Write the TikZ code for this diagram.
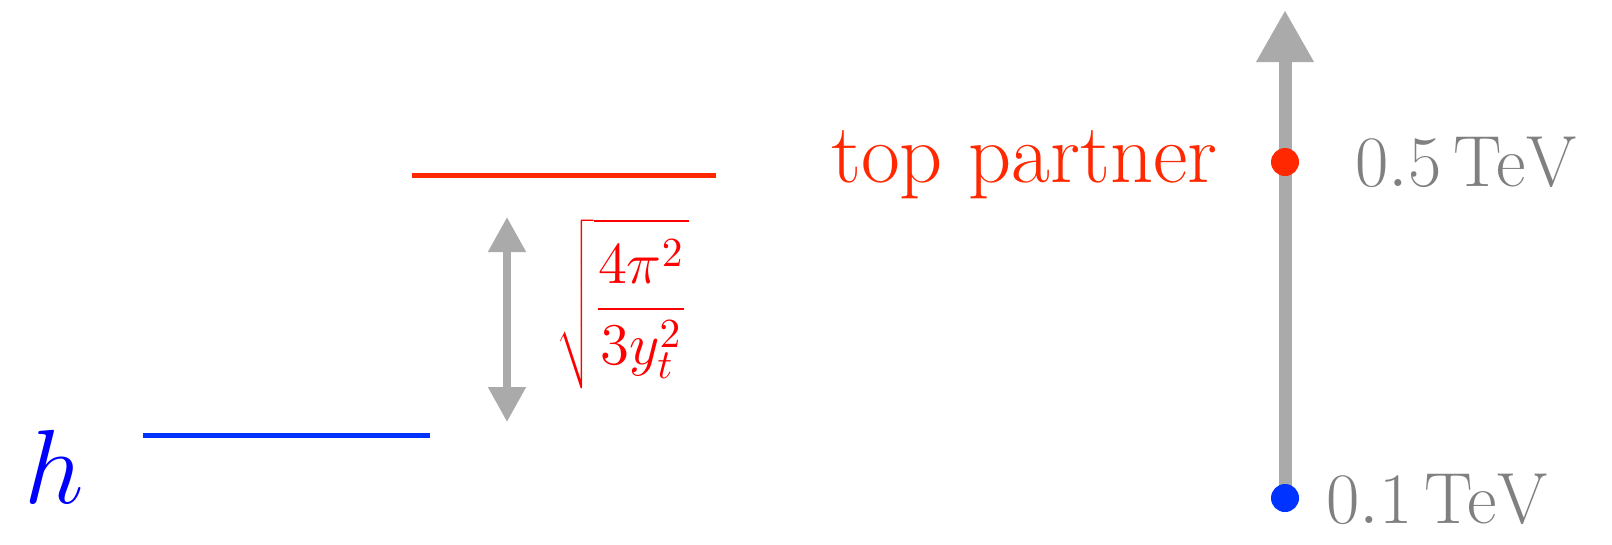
\RequirePackage{fix-cm}
\documentclass[tikz,border=0pt]{standalone}
\usetikzlibrary{arrows.meta}
\definecolor{higgsblue}{RGB}{0,51,255}
\definecolor{partnerred}{RGB}{255,40,0}
\definecolor{scalegray}{RGB}{170,170,170}
\definecolor{labelgray}{RGB}{128,128,128}
\tikzset{
  level/.style={line width=0.05cm},
  gap arrow/.style={scalegray, line width=0.08cm,
    {Triangle[length=0.35cm,width=0.36cm]}-{Triangle[length=0.35cm,width=0.36cm]}},
  mass axis/.style={scalegray, line width=0.13cm,
    -{Triangle[length=0.52cm,width=0.54cm]}},
  mass dot/.style={circle, fill, inner sep=0pt, minimum size=0.28cm},
  mass label/.style={labelgray, font=\fontsize{20.6}{24}\selectfont,
    inner sep=0pt, anchor=west},
}
\begin{document}
\begin{tikzpicture}[x=0.01cm, y=-0.01cm]
    \useasboundingbox (0,0) rectangle (1612,544);

    % energy levels
    \coordinate (hleft) at (143,435);
    \coordinate (hright) at (430,435);
    \coordinate (tleft) at (412,175.5);
    \coordinate (tright) at (716,175.5);
    \draw[level, higgsblue] (hleft) -- (hright);
    \draw[level, partnerred] (tleft) -- (tright);
    \node[text=blue, font=\fontsize{30}{36}\selectfont, inner sep=0pt,
      anchor=base west] (hname) at (24,503) {$h$};

    % gap between the levels
    \coordinate (gaptop) at (507,217);
    \coordinate (gapbottom) at (507,422);
    \draw[gap arrow] (gapbottom) -- (gaptop);
    \node[red, font=\fontsize{16.8}{20}\selectfont, inner sep=0pt,
      anchor=west] (gaplabel) at (556,304)
      {$\displaystyle\sqrt{\frac{4\pi^2}{3y_t^2}}$};

    % mass scale
    \coordinate (axisbase) at (1285,498);
    \coordinate (axistip) at (1285,10);
    \draw[mass axis] (axisbase) -- (axistip);
    \node[mass dot, higgsblue] (hdot) at (axisbase) {};
    \node[mass dot, partnerred] (tdot) at (1285,162) {};
    \node[mass label] (hmass) at (1326,499) {$0.1\,\mathrm{TeV}$};
    \node[mass label] (tmass) at (1355,162) {$0.5\,\mathrm{TeV}$};
    \node[text=partnerred, font=\fontsize{24}{28}\selectfont, inner sep=0pt,
      anchor=base east] (tname) at (1218,182) {top partner};
\end{tikzpicture}
\end{document}
